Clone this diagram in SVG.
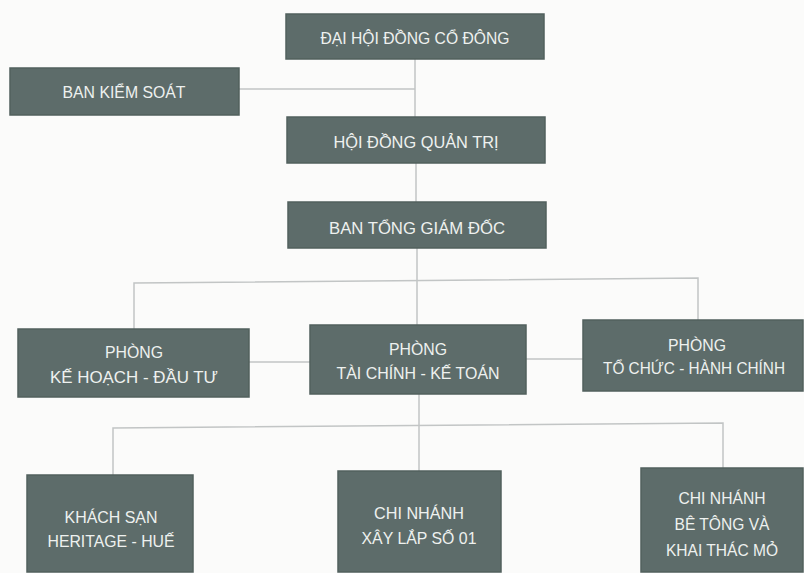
<svg xmlns="http://www.w3.org/2000/svg" width="804" height="573" viewBox="0 0 804 573">
  <style>
    .box { fill: #5d6c6a; stroke: #52605d; stroke-width: 1.5; }
    .lbl { font-family: "Liberation Sans", Arial, sans-serif; font-size: 17px; fill: #eef1ef; text-anchor: middle; }
    .con { stroke: #c2c5c5; stroke-width: 1.5; fill: none; }
  </style>
  <rect x="0" y="0" width="804" height="573" fill="#fbfbfa"/>

  <g id="connectors">
    <path class="con" d="M415,59 V117"/>
    <path class="con" d="M239,89 H415"/>
    <path class="con" d="M416,163 V202"/>
    <path class="con" d="M417,248 V281"/>
    <path class="con" d="M134,329 V283 L698,278 V320"/>
    <path class="con" d="M417,281 V325"/>
    <path class="con" d="M249,362 H310"/>
    <path class="con" d="M526,359 H583"/>
    <path class="con" d="M419,394 V471"/>
    <path class="con" d="M113,475 V428 L723,423 V468"/>
  </g>

  <g id="dai-hoi-dong-co-dong">
    <rect class="box" x="286" y="14" width="258" height="45"/>
    <text class="lbl" x="415" y="44" textLength="189" lengthAdjust="spacingAndGlyphs">ĐẠI HỘI ĐỒNG CỔ ĐÔNG</text>
  </g>

  <g id="ban-kiem-soat">
    <rect class="box" x="10" y="68" width="229" height="47"/>
    <text class="lbl" x="124" y="98" textLength="123" lengthAdjust="spacingAndGlyphs">BAN KIỂM SOÁT</text>
  </g>

  <g id="hoi-dong-quan-tri">
    <rect class="box" x="287" y="117" width="258" height="46"/>
    <text class="lbl" x="416" y="148" textLength="165" lengthAdjust="spacingAndGlyphs">HỘI ĐỒNG QUẢN TRỊ</text>
  </g>

  <g id="ban-tong-giam-doc">
    <rect class="box" x="288" y="202" width="258" height="46"/>
    <text class="lbl" x="417" y="234" textLength="176" lengthAdjust="spacingAndGlyphs">BAN TỔNG GIÁM ĐỐC</text>
  </g>

  <g id="phong-ke-hoach-dau-tu">
    <rect class="box" x="18" y="329" width="231" height="68"/>
    <text class="lbl" x="134" y="358" textLength="58" lengthAdjust="spacingAndGlyphs">PHÒNG</text>
    <text class="lbl" x="134" y="383" textLength="168" lengthAdjust="spacingAndGlyphs">KẾ HOẠCH - ĐẦU TƯ</text>
  </g>

  <g id="phong-tai-chinh-ke-toan">
    <rect class="box" x="310" y="325" width="216" height="69"/>
    <text class="lbl" x="418" y="355" textLength="58" lengthAdjust="spacingAndGlyphs">PHÒNG</text>
    <text class="lbl" x="418" y="379" textLength="163" lengthAdjust="spacingAndGlyphs">TÀI CHÍNH - KẾ TOÁN</text>
  </g>

  <g id="phong-to-chuc-hanh-chinh">
    <rect class="box" x="583" y="320" width="220" height="71"/>
    <text class="lbl" x="697" y="351" textLength="58" lengthAdjust="spacingAndGlyphs">PHÒNG</text>
    <text class="lbl" x="694" y="374" textLength="182" lengthAdjust="spacingAndGlyphs">TỔ CHỨC - HÀNH CHÍNH</text>
  </g>

  <g id="khach-san-heritage-hue">
    <rect class="box" x="27" y="475" width="166" height="97"/>
    <text class="lbl" x="111" y="523" textLength="93" lengthAdjust="spacingAndGlyphs">KHÁCH SẠN</text>
    <text class="lbl" x="111" y="547" textLength="127" lengthAdjust="spacingAndGlyphs">HERITAGE - HUẾ</text>
  </g>

  <g id="chi-nhanh-xay-lap-so-01">
    <rect class="box" x="338" y="471" width="163" height="101"/>
    <text class="lbl" x="419" y="519" textLength="90" lengthAdjust="spacingAndGlyphs">CHI NHÁNH</text>
    <text class="lbl" x="419" y="544" textLength="115" lengthAdjust="spacingAndGlyphs">XÂY LẮP SỐ 01</text>
  </g>

  <g id="chi-nhanh-be-tong">
    <rect class="box" x="641" y="468" width="162" height="104"/>
    <text class="lbl" x="722" y="504" textLength="87" lengthAdjust="spacingAndGlyphs">CHI NHÁNH</text>
    <text class="lbl" x="722" y="530" textLength="95" lengthAdjust="spacingAndGlyphs">BÊ TÔNG VÀ</text>
    <text class="lbl" x="722" y="556" textLength="112" lengthAdjust="spacingAndGlyphs">KHAI THÁC MỎ</text>
  </g>
</svg>
